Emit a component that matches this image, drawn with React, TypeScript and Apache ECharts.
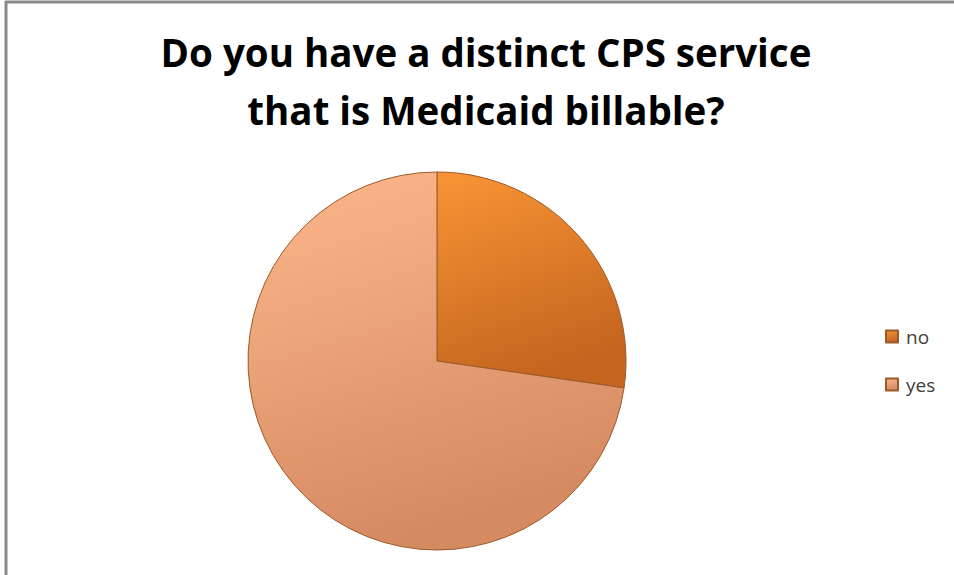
import React, { useEffect, useRef } from "react";
import * as echarts from "echarts";

const titleLines = ["Do you have a distinct CPS service", "that is Medicaid billable?"];
const categories = ["no", "yes"];
const values = [3, 8];

export default function App() {
  const ref = useRef<HTMLDivElement>(null);
  useEffect(() => {
    if (!ref.current) return;
    const chart = echarts.init(ref.current, null, { renderer: "svg" });
    const grad = (a: string, b: string) =>
      new echarts.graphic.LinearGradient(0, 0, 0.3, 1, [
        { offset: 0, color: a },
        { offset: 1, color: b },
      ]);
    const sliceColors = [grad("#f99535", "#c5651f"), grad("#fdb88b", "#d68a62")];
    chart.setOption({
      animation: false,
      backgroundColor: "#ffffff",
      title: {
        text: titleLines.join("\n"),
        left: 481,
        textAlign: "center",
        top: 18,
        textStyle: {
          fontFamily: "Open Sans",
          fontWeight: "bold",
          fontSize: 38.5,
          lineHeight: 58,
          color: "#000000",
        },
      },
      legend: {
        orient: "vertical",
        left: 880,
        top: 322,
        itemWidth: 12,
        itemHeight: 12,
        itemGap: 29,
        icon: "rect",
        data: categories,
        textStyle: { fontFamily: "Open Sans", fontSize: 19, color: "#404040", padding: [0, 0, 0, 3] },
      },
      graphic: [
        { type: "line", shape: { x1: 5, y1: 2, x2: 954, y2: 2 }, style: { stroke: "#8a8a8a", lineWidth: 3 } },
        { type: "line", shape: { x1: 6, y1: 1, x2: 6, y2: 575 }, style: { stroke: "#8a8a8a", lineWidth: 3 } },
      ],
      series: [
        {
          type: "pie",
          center: [437, 361],
          radius: 189,
          startAngle: 90,
          clockwise: true,
          label: { show: false },
          labelLine: { show: false },
          emphasis: { disabled: true },
          itemStyle: { borderColor: "#9a5a2a", borderWidth: 1 },
          data: categories.map((name, i) => ({
            name,
            value: values[i],
            itemStyle: { color: sliceColors[i] },
          })),
        },
      ],
    });
    return () => chart.dispose();
  }, []);
  return (
    <div
      ref={ref}
      style={{ position: "absolute", left: 0, top: 0, width: 954, height: 575 }}
    />
  );
}
